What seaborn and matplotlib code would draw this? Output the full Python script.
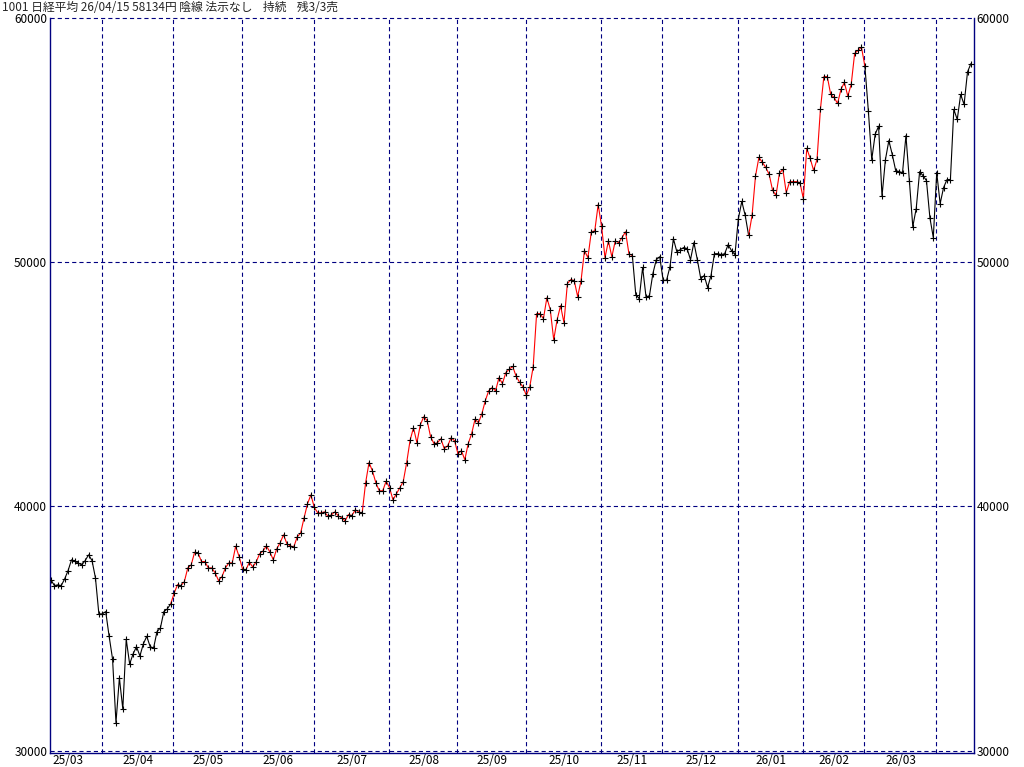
import matplotlib
matplotlib.use("Agg")
import matplotlib.pyplot as plt
import numpy as np
import pandas as pd
import seaborn as sns

# daily closes of 日経平均, one list per month
mar25 = [36995, 36760, 36790, 36760, 37035, 37375, 37815, 37760, 37675, 37610,
         37785, 38020, 37785, 37075, 35600]
apr25 = [35600, 35695, 34685, 33755, 31150, 32980, 31710, 34560, 33550, 33960,
         34260, 33880, 34370, 34685, 34260, 34205, 34875, 35030, 35695, 35805, 36010]
may25 = [36445, 36800, 36760, 36925, 37485, 37610, 38125, 38100, 37745, 37745,
         37485, 37485, 37280, 36965, 37130, 37485, 37690, 37690, 38370, 37950]
jun25 = [37445, 37405, 37715, 37525, 37730, 38060, 38180, 38385, 38140, 37815,
         38265, 38510, 38840, 38470, 38385, 38345, 38755, 38915, 39530, 40105, 40475]
jul25 = [39960, 39740, 39740, 39780, 39590, 39660, 39780, 39615, 39545, 39410,
         39670, 39630, 39865, 39770, 39740, 40970, 41800, 41450, 40970, 40640,
         40640, 41035]
aug25 = [40765, 40270, 40515, 40765, 41020, 41790, 42705, 43225, 42610, 43345,
         43675, 43510, 42855, 42570, 42610, 42775, 42365, 42485, 42815, 42690]
sep25 = [42160, 42285, 41915, 42570, 42980, 43575, 43425, 43800, 44330, 44740,
         44865, 44740, 45275, 45030, 45480, 45620, 45735, 45335, 45090, 44900]
oct25 = [44550, 44900, 45720, 47895, 47895, 47690, 48545, 48055, 46825, 47645,
         48220, 47525, 49125, 49290, 49250, 48595, 49250, 50480, 50185, 51250,
         51280, 52360]
nov25 = [51470, 50185, 50870, 50225, 50870, 50805, 51010, 51250, 50350, 50270,
         48675, 48510, 49785, 48575, 48630, 49535, 50105, 50225]
dec25 = [49260, 49260, 49820, 50965, 50435, 50515, 50600, 50560, 50105, 50805,
         50105, 49330, 49455, 48965, 49455, 50350, 50350, 50310, 50350, 50720,
         50475, 50310]
jan26 = [51790, 52490, 51915, 51095, 51915, 53515, 54295, 54090, 53885, 53600,
         52945, 52740, 53640, 53805, 52850, 53300, 53300, 53300, 53260]
feb26 = [52605, 54660, 54250, 53760, 54210, 56280, 57600, 57600, 56870, 56745,
         56500, 57075, 57360, 56800, 57290, 58550, 58675, 58800]
mar26 = [58020, 56210, 54200, 55240, 55570, 52700, 54200, 54980, 54410, 53755,
         53710, 53670, 55185, 53340, 51460, 52195, 53710, 53545, 53340, 51825, 51010]
apr26 = [53670, 52400, 53055, 53385, 53385, 56255, 55845, 56870, 56460, 57790, 58134]

month_names = ["25/03", "25/04", "25/05", "25/06", "25/07", "25/08", "25/09",
               "25/10", "25/11", "25/12", "26/01", "26/02", "26/03", "26/04"]
month_data = [mar25, apr25, may25, jun25, jul25, aug25, sep25, oct25, nov25,
              dec25, jan26, feb26, mar26, apr26]

# day index ranges where the line is drawn red (signal on)
red_runs = [(35, 170), (204, 238)]

y_ticks = [30000, 40000, 50000, 60000]
title = "1001 日経平均 26/04/15 58134円 陰線 法示なし    持続    残3/3売"

# ---- build frame
rows = []
for name, vals in zip(month_names, month_data):
    for v in vals:
        rows.append((name, v))
df = pd.DataFrame(rows, columns=["month", "close"])
df["i"] = np.arange(len(df))
n = len(df)

lengths = [len(m) for m in month_data]
month_starts = np.cumsum([0] + lengths[:-1])

# colour runs
runs = []
prev = 0
for a, b in red_runs:
    runs.append((prev, a, "black"))
    runs.append((a, b, "red"))
    prev = b
runs.append((prev, n - 1, "black"))

sns.set_theme(style="white")
plt.rcParams["font.family"] = ["Noto Sans CJK JP", "DejaVu Sans"]
plt.rcParams["lines.scale_dashes"] = False

navy = "#000080"
W, H = 1024, 767
fig = plt.figure(figsize=(W / 100, H / 100), dpi=100)
ax = fig.add_axes([50 / W, (H - 753) / H, 924 / W, 735 / H])

dash = (0, (3.0, 2.2))
for v in y_ticks:
    ax.axhline(v, color=navy, lw=0.8, ls=dash, clip_on=False, zorder=1)
for s in month_starts[1:]:
    ax.axvline(s - 0.2, color=navy, lw=0.8, ls=dash, zorder=1)

for a, b, c in runs:
    seg = df.iloc[a:b + 1]
    sns.lineplot(data=seg, x="i", y="close", color=c, lw=0.8, ax=ax, zorder=2)

sns.scatterplot(data=df, x="i", y="close", marker="+", color="black", s=14,
                linewidth=0.8, ax=ax, zorder=3)

ax.set_xlim(-0.29, 269.9)
ax.set_ylim(29906, 60000)

# month labels centred in each month span (first month assumed ~20 days wide)
mids = []
for k, s in enumerate(month_starts[:-1]):
    e = month_starts[k + 1]
    if k == 0:
        mids.append(e - 10)
    else:
        mids.append((s + e) / 2)
ax.set_xticks(mids)
ax.set_xticklabels(month_names[:-1])
ax.set_yticks(y_ticks)
ax.set_yticklabels([str(v) for v in y_ticks])
ax.tick_params(axis="y", length=0, pad=2, labelsize=8.5, labelleft=True,
               labelright=True, colors="black")
ax.tick_params(axis="x", length=0, pad=1, labelsize=8.5, colors="black")
ax.set_xlabel("")
ax.set_ylabel("")
ax.grid(False)

ax.spines["top"].set_visible(False)
for side in ["left", "right", "bottom"]:
    ax.spines[side].set_color(navy)
    ax.spines[side].set_linewidth(1.0)

fig.text(2 / W, 1 - 1 / H, title, ha="left", va="top", fontsize=8.5)

fig.savefig("out.png", dpi=100)
